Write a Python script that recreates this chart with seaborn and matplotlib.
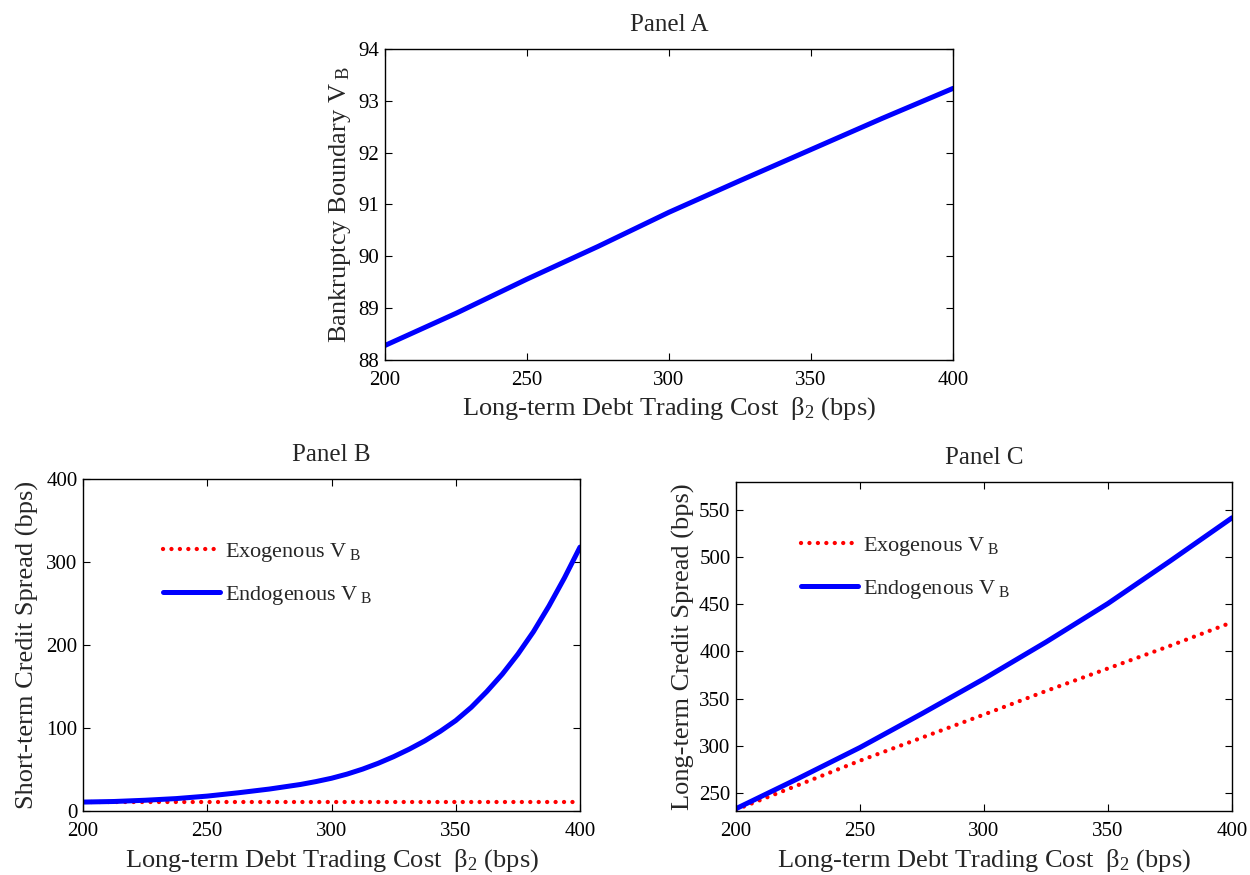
import numpy as np
import pandas as pd
import matplotlib
matplotlib.use("Agg")
import matplotlib.pyplot as plt
import seaborn as sns

# Panel A: bankruptcy boundary vs long-term trading cost
beta2_a = [200, 225, 250, 275, 300, 325, 350, 375, 400]
vb_a = [88.28, 88.90, 89.56, 90.19, 90.85, 91.46, 92.06, 92.66, 93.24]

# Panel B: short-term credit spread (bps)
beta2_b = [200, 212.5, 225, 237.5, 250, 262.5, 275, 287.5, 293.75, 300, 306.25,
		   312.5, 318.75, 325, 331.25, 337.5, 343.75, 350, 356.25, 362.5, 368.75,
		   375, 381.25, 387.5, 393.75, 400]
short_exo = [10.8] * len(beta2_b)
short_endo = [10.8, 11.5, 13, 15, 18, 22, 26.5, 32, 35.5, 39.5, 44.5,
			  50.5, 57.5, 65.5, 74.5, 84.5, 96, 109, 125, 144, 165,
			  189, 216, 247, 281, 318]

# Panel C: long-term credit spread (bps)
beta2_c = [200, 225, 250, 275, 300, 325, 350, 375, 400]
long_exo = [232, 258, 284, 308.5, 333, 358, 382, 406, 431]
long_endo = [233, 265, 298, 334, 371, 410, 451, 496, 542]

sns.set_theme(style="ticks")
plt.rcParams["font.family"] = ["Liberation Serif", "DejaVu Serif"]
plt.rcParams["mathtext.fontset"] = "custom"
plt.rcParams["mathtext.rm"] = "Liberation Serif"
plt.rcParams["mathtext.it"] = "Liberation Serif:italic"

xlab = r"Long-term Debt Trading Cost  β$_2$ (bps)"
exo_lab = r"Exogenous V$_{\ \mathrm{B}}$"
endo_lab = r"Endogenous V$_{\ \mathrm{B}}$"
dotted = (0, (0.01, 1.95))

fig = plt.figure(figsize=(12.5, 8.75), dpi=100)
ax_a = fig.add_axes([0.308, 0.5886, 0.4544, 0.3554])
ax_b = fig.add_axes([0.0664, 0.0731, 0.3976, 0.3794])
ax_c = fig.add_axes([0.5888, 0.0731, 0.3968, 0.376])


def style_axes(ax):
	ax.tick_params(direction="in", top=True, right=True, length=5, width=0.8,
				   labelsize=15, colors="black")
	ax.tick_params(axis="x", pad=8)
	ax.tick_params(axis="y", pad=4)
	for sp in ax.spines.values():
		sp.set_visible(True)
		sp.set_color("black")
		sp.set_linewidth(1.0)
	ax.set_xlim(200, 400)
	ax.set_xticks([200, 250, 300, 350, 400])
	ax.set_xlabel(xlab, fontsize=19, labelpad=4)


# Panel A
sns.lineplot(x=beta2_a, y=vb_a, ax=ax_a, color="blue", linewidth=3.6)
style_axes(ax_a)
ax_a.set_ylim(88, 94)
ax_a.set_yticks([88, 89, 90, 91, 92, 93, 94])
ax_a.set_ylabel(r"Bankruptcy Boundary V$_{\ \mathrm{B}}$", fontsize=19, labelpad=4)
ax_a.set_title("Panel A", fontsize=18, pad=13)

# Panel B
sns.lineplot(x=beta2_b, y=short_exo, ax=ax_b, color="red", linewidth=3.1,
			 linestyle=dotted, dash_capstyle="round", label=exo_lab)
sns.lineplot(x=beta2_b, y=short_endo, ax=ax_b, color="blue", linewidth=3.6,
			 label=endo_lab)
style_axes(ax_b)
ax_b.set_ylim(0, 400)
ax_b.set_yticks([0, 100, 200, 300, 400])
ax_b.set_ylabel("Short-term Credit Spread (bps)", fontsize=19, labelpad=5)
ax_b.set_title("Panel B", fontsize=18, pad=13)
ax_b.legend(loc="upper left", bbox_to_anchor=(0.12, 0.875), frameon=False,
			fontsize=16, handlelength=2.6, labelspacing=0.9, handletextpad=0.2)

# Panel C
sns.lineplot(x=beta2_c, y=long_exo, ax=ax_c, color="red", linewidth=3.1,
			 linestyle=dotted, dash_capstyle="round", label=exo_lab)
sns.lineplot(x=beta2_c, y=long_endo, ax=ax_c, color="blue", linewidth=3.6,
			 label=endo_lab)
style_axes(ax_c)
ax_c.set_ylim(230.5, 580)
ax_c.set_yticks([250, 300, 350, 400, 450, 500, 550])
ax_c.set_ylabel("Long-term Credit Spread (bps)", fontsize=19, labelpad=3)
ax_c.set_title("Panel C", fontsize=18, pad=13)
ax_c.legend(loc="upper left", bbox_to_anchor=(0.09, 0.9), frameon=False,
			fontsize=16, handlelength=2.6, labelspacing=0.9, handletextpad=0.2)

fig.savefig("out.png", dpi=100, facecolor="white")
plt.close(fig)
